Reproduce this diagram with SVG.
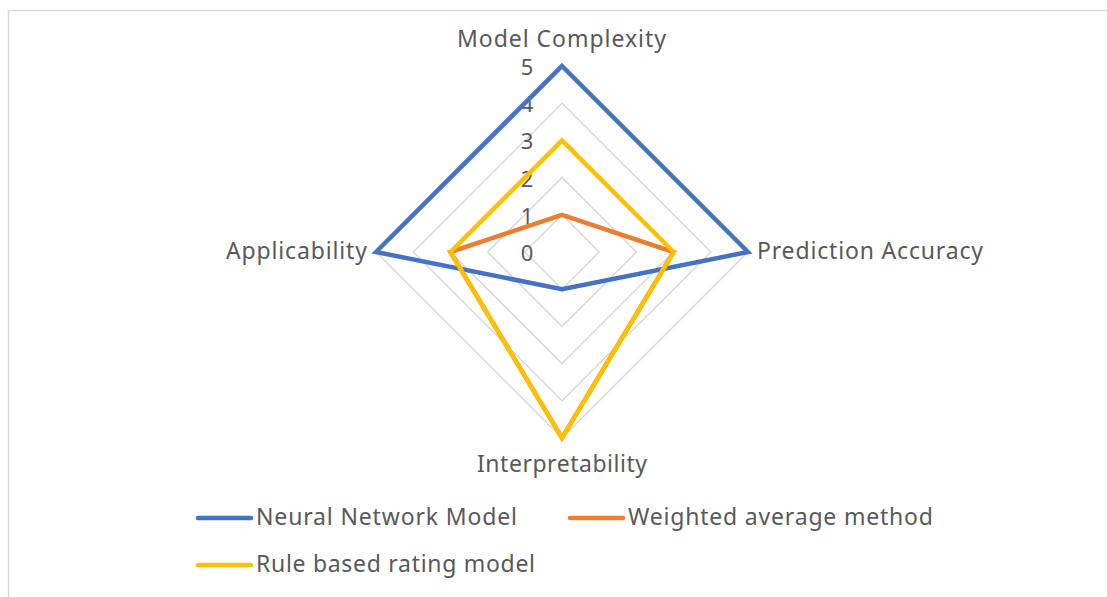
<svg xmlns="http://www.w3.org/2000/svg" width="1107" height="597" viewBox="0 0 1107 597">
<style>
.t{font-family:"Noto Sans","Open Sans","DejaVu Sans",sans-serif;font-size:23px;fill:#595959}
.n{font-family:"Noto Sans","Open Sans","DejaVu Sans",sans-serif;font-size:22px;fill:#595959}
.grid{fill:none;stroke:#d9d9d9;stroke-width:1.5}
.s{fill:none;stroke-width:4.5;stroke-linejoin:miter}
.leg{stroke-width:4.5;stroke-linecap:round}
</style>
<rect x="0" y="0" width="1107" height="597" fill="#ffffff"/>
<path d="M8.5 600 V10.5 H1110" fill="none" stroke="#d9d9d9" stroke-width="1.5"/>
<g id="grid">
<polygon class="grid" points="562,214.8 599.2,252 562,289.2 524.8,252"/>
<polygon class="grid" points="562,177.6 636.4,252 562,326.4 487.6,252"/>
<polygon class="grid" points="562,140.4 673.6,252 562,363.6 450.4,252"/>
<polygon class="grid" points="562,103.2 710.8,252 562,400.8 413.2,252"/>
<polygon class="grid" points="562,66 748,252 562,438 376,252"/>
</g>
<g id="scale" class="n" text-anchor="middle">
<text x="527" y="75">5</text>
<text x="527" y="112">4</text>
<text x="527" y="149">3</text>
<text x="527" y="187">2</text>
<text x="527" y="224">1</text>
<text x="527" y="261">0</text>
</g>
<g id="axis-labels" class="t">
<text id="lbl-complexity" x="457" y="46.5" textLength="209" lengthAdjust="spacing">Model Complexity</text>
<text id="lbl-accuracy" x="757" y="259" textLength="226" lengthAdjust="spacing">Prediction Accuracy</text>
<text id="lbl-applicability" x="226" y="259" textLength="141" lengthAdjust="spacing">Applicability</text>
<text id="lbl-interpretability" x="477" y="472" textLength="170" lengthAdjust="spacing">Interpretability</text>
</g>
<g id="series">
<polygon id="neural" class="s" stroke="#4472c4" points="562,66 748,252 562,289.2 376,252"/>
<polygon id="weighted" class="s" stroke="#ed7d31" points="562,214.8 673.6,252 562,438 450.4,252"/>
<polygon id="rule" class="s" stroke="#ffc000" points="562,140.4 673.6,252 562,438 450.4,252"/>
</g>
<g id="legend">
<g id="leg-neural"><line class="leg" x1="198" y1="518" x2="251" y2="518" stroke="#4472c4"/><text class="t" x="256" y="525" textLength="261" lengthAdjust="spacing">Neural Network Model</text></g>
<g id="leg-weighted"><line class="leg" x1="570" y1="518" x2="623" y2="518" stroke="#ed7d31"/><text class="t" x="628" y="525" textLength="305" lengthAdjust="spacing">Weighted average method</text></g>
<g id="leg-rule"><line class="leg" x1="198" y1="565" x2="251" y2="565" stroke="#ffc000"/><text class="t" x="256" y="572" textLength="279" lengthAdjust="spacing">Rule based rating model</text></g>
</g>
</svg>
